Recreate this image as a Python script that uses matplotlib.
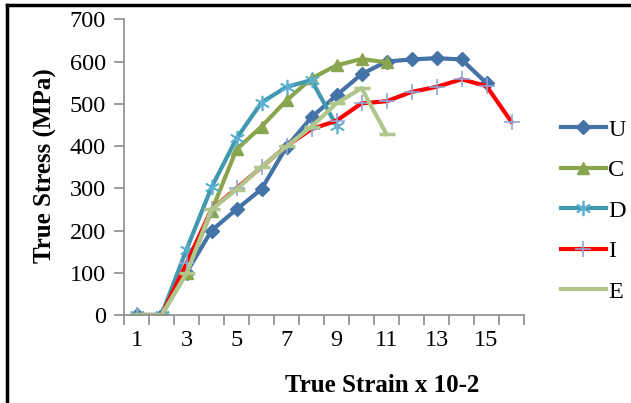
import matplotlib
matplotlib.use("Agg")
import matplotlib.pyplot as plt
from matplotlib.lines import Line2D

plt.rcParams['font.family'] = ['Liberation Serif', 'DejaVu Serif']

strain = list(range(1, 17))
U = [0, 0, 100, 200, 250, 298, 398, 468, 520, 570, 600, 605, 608, 605, 549]
C = [0, 0, 100, 246, 392, 446, 508, 560, 591, 606, 598]
D = [0, 0, 155, 302, 418, 503, 540, 556, 448]
I = [0, 0, 122, 250, 300, 350, 400, 440, 460, 501, 506, 528, 540, 558, 542, 457]
E = [0, 0, 99, 250, 297, 351, 399, 446, 501, 537, 428]
xticklabels = ['1', '3', '5', '7', '9', '11', '13', '15']
yticks = [0, 100, 200, 300, 400, 500, 600, 700]

W, H = 631, 403
fig = plt.figure(figsize=(W / 100, H / 100), dpi=100)
ax = fig.add_axes([124 / W, 1 - 315 / H, 400 / W, (315 - 19.3) / H])

lw = 3.0
ax.plot(strain[:len(U)], U, color='#4572A7', lw=lw, marker='D', ms=7, label='U')
ax.plot(strain[:len(C)], C, color='#89A54E', lw=lw, marker='^', ms=9, label='C')
ax.plot(strain[:len(D)], D, color='#4198AF', lw=lw, marker=(6, 2, 0), ms=11,
        mec='#5BB0D0', mew=1.2, label='D')
ax.plot(strain[:len(I)], I, color='#FF0000', lw=lw, marker='+', ms=11,
        mec='#8DA6D8', mew=1.2, label='I')
ax.plot(strain[:len(E)], E, color='#AFC78C', lw=lw, marker='_', ms=11,
        mew=2.5, label='E')

ax.set_xlim(0.5, 16.5)
ax.set_ylim(0, 700)
ax.set_yticks(yticks)
ax.set_xticks([1, 3, 5, 7, 9, 11, 13, 15])
ax.set_xticklabels(xticklabels)
ax.set_xticks([x + 0.5 for x in range(0, 17)], minor=True)
ax.tick_params(axis='x', which='major', length=0, labelsize=17.5, pad=11)
ax.tick_params(axis='x', which='minor', length=7, width=1.2, color='#8C8C8C', direction='out')
ax.tick_params(axis='y', length=7, width=1.2, color='#8C8C8C', labelsize=17.5, pad=6)

for s in ['top', 'right']:
    ax.spines[s].set_visible(False)
for s in ['left', 'bottom']:
    ax.spines[s].set_color('#8C8C8C')
    ax.spines[s].set_linewidth(1.2)

fig.text(382 / W, 1 - 386 / H, 'True Strain x 10-2', ha='center', va='center',
         fontsize=18, fontweight='bold')
fig.text(45 / W, 1 - 166 / H, 'True Stress (MPa)', ha='center', va='center',
         rotation=90, fontsize=18, fontweight='bold')

leg = ax.legend(loc='upper left', bbox_to_anchor=(551 / W, 1 - 109 / H),
                bbox_transform=fig.transFigure, frameon=False, fontsize=17.5,
                handlelength=1.85, handletextpad=0.1, labelspacing=0.76,
                borderaxespad=0)
leg.legend_handles[4].set_marker('None')

fig.add_artist(Line2D([7 / W, 1], [1 - 5 / H, 1 - 5 / H], color='black', lw=2.5,
                      transform=fig.transFigure))
fig.add_artist(Line2D([7 / W, 7 / W], [0, 1 - 5 / H], color='black', lw=2.5,
                      transform=fig.transFigure))

fig.savefig('out.png', dpi=100)
